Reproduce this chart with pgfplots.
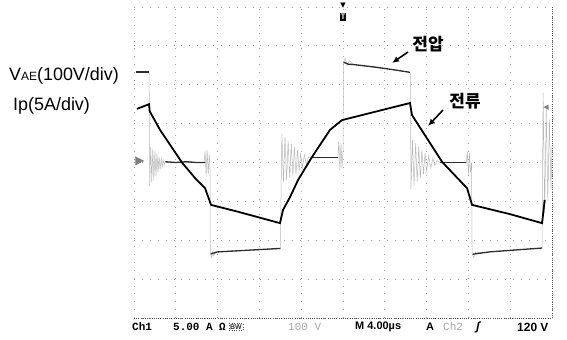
\documentclass[border=0pt]{standalone}
\usepackage{pgfplots}
\pgfplotsset{compat=1.18}
\usepackage{fontspec}
\setmainfont{Liberation Sans}
\newfontfamily\kr{Noto Sans CJK KR}
\newfontfamily\sym{DejaVu Sans}
\newfontfamily\monob{Liberation Mono}
\usetikzlibrary{arrows.meta}
\begin{document}
\begin{tikzpicture}[x=1bp,y=1bp]
\path[use as bounding box] (0,0) rectangle (567,339);
\begin{axis}[at={(134bp,21bp)}, anchor=south west, scale only axis,
  width=418bp, height=311bp,
  xmin=0, xmax=40, ymin=-4, ymax=4,
  xtick={0,4,...,40}, ytick={-4,-3,...,4},
  xticklabel=\empty, yticklabel=\empty, major tick length=0pt,
  grid=major,
  major grid style={gray!70, line width=0.9bp, dash pattern=on 0.9bp off 7bp},
  axis line style={draw=none}, clip=false]
% borders (scope graticule)
\draw[gray!60!black, line width=1bp, dash pattern=on 1bp off 1.2bp] (axis cs:40,-4) -- (axis cs:40,4);
\draw[gray!60!black, line width=1bp, dash pattern=on 1bp off 1.2bp] (axis cs:0,-4) -- (axis cs:40,-4);
% voltage V_AE: full waveform incl. transitions and ringing (light gray)
\addplot[gray!55, line width=0.5bp] coordinates {
(0.2,2.33)(1.45,2.33)(1.5,-0.6)(1.6,0.4)(1.7,-0.5)(1.8,0.35)(1.9,-0.45)(2.0,0.3)(2.1,-0.35)
(2.2,0.22)(2.3,-0.25)(2.4,0.15)(2.5,-0.18)(2.6,0.1)(2.7,-0.12)(2.8,0.06)(2.9,-0.06)(3.0,0.03)
(3.2,0)(6.7,0)(6.8,0.3)(6.9,-0.35)(7.0,0.32)(7.1,-0.3)(7.2,0.2)(7.27,0)(7.3,-2.3)(7.4,-2.45)
(7.5,-2.3)(7.6,-2.4)(7.8,-2.3)(14.0,-2.22)(14.15,0.75)(14.3,-0.5)(14.45,0.65)(14.6,-0.45)
(14.75,0.55)(14.9,-0.4)(15.05,0.48)(15.2,-0.35)(15.35,0.4)(15.5,-0.3)(15.65,0.32)(15.8,-0.22)
(15.95,0.25)(16.1,-0.15)(16.3,0.2)(16.5,-0.05)(16.7,0.15)(17.0,0.12)(19.5,0.12)(19.6,0.55)
(19.7,-0.2)(19.8,0.5)(19.9,-0.15)(20.0,0.3)(20.05,2.56)(20.2,2.68)(20.4,2.5)(20.6,2.62)
(21,2.52)(26.4,2.32)(26.45,2.3)(26.5,-0.7)(26.65,0.58)(26.8,-0.6)(26.95,0.5)(27.1,-0.5)
(27.25,0.42)(27.4,-0.4)(27.55,0.33)(27.7,-0.3)(27.85,0.25)(28.0,-0.22)(28.2,0.18)(28.4,-0.14)
(28.6,0.1)(28.8,-0.08)(29.0,0.05)(29.3,0)(31.8,0)(31.9,0.27)(32.0,-0.32)(32.1,0.25)(32.2,-0.25)
(32.3,0)(32.35,-2.33)(32.5,-2.45)(32.7,-2.3)(33,-2.32)(39.05,-2.2)(39.15,1.8)(39.3,-1.3)
(39.45,1.4)(39.6,-1.0)(39.75,1.1)(39.9,-0.7)(40,0.4)};
% voltage levels (dark)
\addplot[gray!35!black, line width=1.3bp] coordinates {(0.2,2.33)(1.45,2.33)};
\addplot[gray!35!black, line width=1.3bp] coordinates {(3.0,0.02)(4,0)(5,0.02)(6,0)(6.8,0)};
\addplot[gray!35!black, line width=1.3bp] coordinates {(7.35,-2.35)(8,-2.3)(10,-2.27)(12,-2.24)(14.0,-2.21)};
\addplot[gray!35!black, line width=1.3bp] coordinates {(17.0,0.12)(19.5,0.12)};
\addplot[gray!35!black, line width=1.3bp] coordinates {(20.05,2.58)(20.5,2.53)(21,2.52)(23.2,2.45)(25,2.38)(26.4,2.32)};
\addplot[gray!35!black, line width=1.3bp] coordinates {(29.3,0)(31.8,0)};
\addplot[gray!35!black, line width=1.3bp] coordinates {(32.4,-2.36)(34,-2.3)(36,-2.26)(39.05,-2.2)};
% current Ip
\addplot[black, line width=1.8bp] coordinates {
(0.29,1.38)(1.44,1.5)(1.5,1.32)(2.49,0.84)(4.59,0)(5.84,-0.4)(6.8,-0.66)(7.37,-1.09)
(10,-1.27)(13.97,-1.56)(14.26,-1.22)(14.93,-0.89)(15.7,-0.45)(17.03,0.14)(18.76,0.84)
(19.9,1.09)(23,1.3)(26.41,1.53)(26.6,1.22)(29.5,0.01)(31.87,-0.66)(32.35,-1.09)
(36,-1.33)(39.05,-1.56)(39.3,-0.96)};
\end{axis}
% labels
\node[anchor=west, inner sep=0, font=\fontsize{18}{18}\selectfont] at (9,263) {V{\fontsize{12}{12}\selectfont AE}(100V/div)};
\node[anchor=west, inner sep=0, font=\fontsize{18}{18}\selectfont] at (13,233) {Ip(5A/div)};
\node[inner sep=0, font=\kr\bfseries\fontsize{17}{17}\selectfont] at (428,295) {전압};
\node[inner sep=0, font=\kr\bfseries\fontsize{17}{17}\selectfont] at (465,238) {전류};
\draw[-{Latex[length=7bp,width=6bp]}, line width=1.6bp] (408,287) -- (392,276);
\draw[-{Latex[length=7bp,width=6bp]}, line width=1.6bp] (443,229) -- (428,213);
% scope markers
\node[inner sep=0, font=\sym\fontsize{7}{7}\selectfont] at (343,333) {▼};
\node[inner sep=1bp, fill=black, text=white, font=\bfseries\fontsize{8}{8}\selectfont] at (343,322) {T};
\node[inner sep=0, text=gray, font=\sym\fontsize{12}{12}\selectfont] at (140,178) {▶};
\node[inner sep=0, text=gray, font=\sym\fontsize{7}{7}\selectfont] at (546,231) {◀};
% status line
\node[anchor=west, inner sep=0, font=\monob\bfseries\fontsize{11}{11}\selectfont] at (132,12) {Ch1};
\node[anchor=west, inner sep=0, font=\monob\bfseries\fontsize{11}{11}\selectfont] at (173,12) {5.00 A Ω};
\node[inner sep=1bp, draw=gray!60!black, dotted, font=\bfseries\fontsize{7}{7}\selectfont, text=gray!40!black] at (236,12) {BW};
\node[anchor=west, inner sep=0, text=gray!70, font=\monob\fontsize{11}{11}\selectfont] at (288,12) {100 V};
\node[anchor=west, inner sep=0, font=\bfseries\fontsize{11}{11}\selectfont] at (355,12) {M 4.00µs};
\node[anchor=west, inner sep=0, font=\bfseries\fontsize{11}{11}\selectfont] at (426,12) {A};
\node[anchor=west, inner sep=0, text=gray!70, font=\monob\fontsize{11}{11}\selectfont] at (443,12) {Ch2};
\node[anchor=west, inner sep=0, font=\bfseries\itshape\fontsize{12}{12}\selectfont] at (476,12) {ʃ};
\node[anchor=west, inner sep=0, font=\bfseries\fontsize{12}{12}\selectfont] at (517,12) {120 V};
\end{tikzpicture}
\end{document}
